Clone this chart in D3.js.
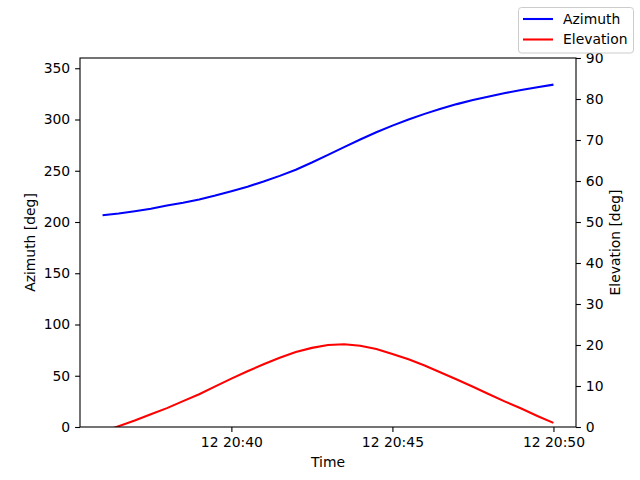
<!DOCTYPE html>
<html>
<head>
<meta charset="utf-8">
<script src="https://cdn.jsdelivr.net/npm/d3@7"></script>
<style>
  body { margin: 0; background: #fff; }
  text { font-family: "DejaVu Sans", sans-serif; fill: #000; }
</style>
</head>
<body>
<div id="container"></div>
<script>
const w = 640;
const h = 480;
const margin = { left: 80, right: 64, top: 58, bottom: 53 };
const fontSize = 13.9;
const tickLen = 4.9;

// Data, 30 s steps
const times = [
  '20:36:00', '20:36:30', '20:37:00', '20:37:30', '20:38:00', '20:38:30',
  '20:39:00', '20:39:30', '20:40:00', '20:40:30', '20:41:00', '20:41:30',
  '20:42:00', '20:42:30', '20:43:00', '20:43:30', '20:44:00', '20:44:30',
  '20:45:00', '20:45:30', '20:46:00', '20:46:30', '20:47:00', '20:47:30',
  '20:48:00', '20:48:30', '20:49:00', '20:49:30', '20:50:00'
];
const azimuth = [
  206.5, 208.3, 210.5, 213.0, 216.0, 218.8, 222.0, 225.8, 230.0, 234.5,
  239.5, 245.0, 251.0, 258.0, 265.5, 273.0, 280.5, 287.5, 294.0, 300.0,
  305.5, 310.5, 315.0, 319.0, 322.5, 325.8, 328.8, 331.5, 334.0
];
const elevation = [
  -1.2, 0.2, 1.6, 3.1, 4.6, 6.3, 8.0, 9.9, 11.8, 13.6,
  15.3, 16.9, 18.3, 19.3, 20.0, 20.2, 19.8, 19.0, 17.8, 16.5,
  15.0, 13.3, 11.6, 9.8, 8.0, 6.2, 4.5, 2.7, 1.0
];
const azTicks = [0, 50, 100, 150, 200, 250, 300, 350];
const elTicks = [0, 10, 20, 30, 40, 50, 60, 70, 80, 90];
const seriesNames = ['Azimuth', 'Elevation'];
const seriesColors = ['#0000ff', '#ff0000'];

const parseTime = d3.timeParse('%Y-%m-%d %H:%M:%S');
const dates = times.map(t => parseTime('2024-01-12 ' + t));

const svg = d3.select('#container')
              .append('svg')
              .attr('width', w)
              .attr('height', h);

const x0 = margin.left, x1 = w - margin.right;
const y0 = h - margin.bottom, y1 = margin.top;

// matplotlib style 5% margin on x
const ext = d3.extent(dates);
const pad = (ext[1] - ext[0]) * 0.05;
const xScale = d3.scaleTime()
                 .domain([new Date(+ext[0] - pad), new Date(+ext[1] + pad)])
                 .range([x0, x1]);
const yLeft = d3.scaleLinear().domain([0, 360]).range([y0, y1]);
const yRight = d3.scaleLinear().domain([0, 90]).range([y0, y1]);

svg.append('clipPath')
   .attr('id', 'plot-clip')
   .append('rect')
   .attr('x', x0).attr('y', y1)
   .attr('width', x1 - x0).attr('height', y0 - y1);

// Lines
const azLine = d3.line()
                 .x((d, i) => xScale(dates[i]))
                 .y(d => yLeft(d));
const elLine = d3.line()
                 .x((d, i) => xScale(dates[i]))
                 .y(d => yRight(d));

svg.append('path')
   .datum(azimuth)
   .attr('d', azLine)
   .attr('fill', 'none')
   .attr('stroke', seriesColors[0])
   .attr('stroke-width', 2.08)
   .attr('clip-path', 'url(#plot-clip)');

svg.append('path')
   .datum(elevation)
   .attr('d', elLine)
   .attr('fill', 'none')
   .attr('stroke', seriesColors[1])
   .attr('stroke-width', 2.08)
   .attr('clip-path', 'url(#plot-clip)');

// Axes
function styleAxis(g) {
  g.select('.domain').remove();
  g.selectAll('.tick line').attr('stroke', '#000').attr('stroke-width', 1.1);
  g.selectAll('.tick text').attr('font-size', fontSize).attr('font-family', '"DejaVu Sans", sans-serif');
}

svg.append('g')
   .attr('transform', `translate(0, ${y0})`)
   .call(d3.axisBottom(xScale)
           .ticks(d3.timeMinute.every(5))
           .tickFormat(d3.timeFormat('%d %H:%M'))
           .tickSize(tickLen).tickPadding(4.9))
   .call(styleAxis);

svg.append('g')
   .attr('transform', `translate(${x0}, 0)`)
   .call(d3.axisLeft(yLeft).tickValues(azTicks).tickSize(tickLen).tickPadding(4.9))
   .call(styleAxis);

svg.append('g')
   .attr('transform', `translate(${x1}, 0)`)
   .call(d3.axisRight(yRight).tickValues(elTicks).tickSize(tickLen).tickPadding(4.9))
   .call(styleAxis);

// Frame
svg.append('rect')
   .attr('x', x0).attr('y', y1)
   .attr('width', x1 - x0).attr('height', y0 - y1)
   .attr('fill', 'none')
   .attr('stroke', '#000')
   .attr('stroke-width', 1.1);

// Axis labels
svg.append('text')
   .attr('x', (x0 + x1) / 2)
   .attr('y', 467)
   .attr('text-anchor', 'middle')
   .attr('font-size', fontSize)
   .text('Time');

svg.append('text')
   .attr('transform', `translate(35, ${(y0 + y1) / 2}) rotate(-90)`)
   .attr('text-anchor', 'middle')
   .attr('font-size', fontSize)
   .text('Azimuth [deg]');

svg.append('text')
   .attr('transform', `translate(620, ${(y0 + y1) / 2}) rotate(-90)`)
   .attr('text-anchor', 'middle')
   .attr('font-size', fontSize)
   .text('Elevation [deg]');

// Legend
const legend = svg.append('g').attr('id', 'legend');
legend.append('rect')
      .attr('x', 518.5).attr('y', 7.5)
      .attr('width', 115).attr('height', 45.5)
      .attr('rx', 3).attr('ry', 3)
      .attr('fill', '#fff').attr('fill-opacity', 0.8)
      .attr('stroke', '#cccccc').attr('stroke-width', 1);

const items = legend.selectAll('.legend-item')
                    .data(seriesNames)
                    .enter()
                    .append('g')
                    .attr('class', 'legend-item')
                    .attr('transform', (d, i) => `translate(0, ${19 + i * 20.5})`);

items.append('line')
     .attr('x1', 523).attr('x2', 553)
     .attr('stroke', (d, i) => seriesColors[i])
     .attr('stroke-width', 2.08);

items.append('text')
     .attr('x', 563)
     .attr('dy', '0.35em')
     .attr('font-size', fontSize)
     .text(d => d);
</script>
</body>
</html>
